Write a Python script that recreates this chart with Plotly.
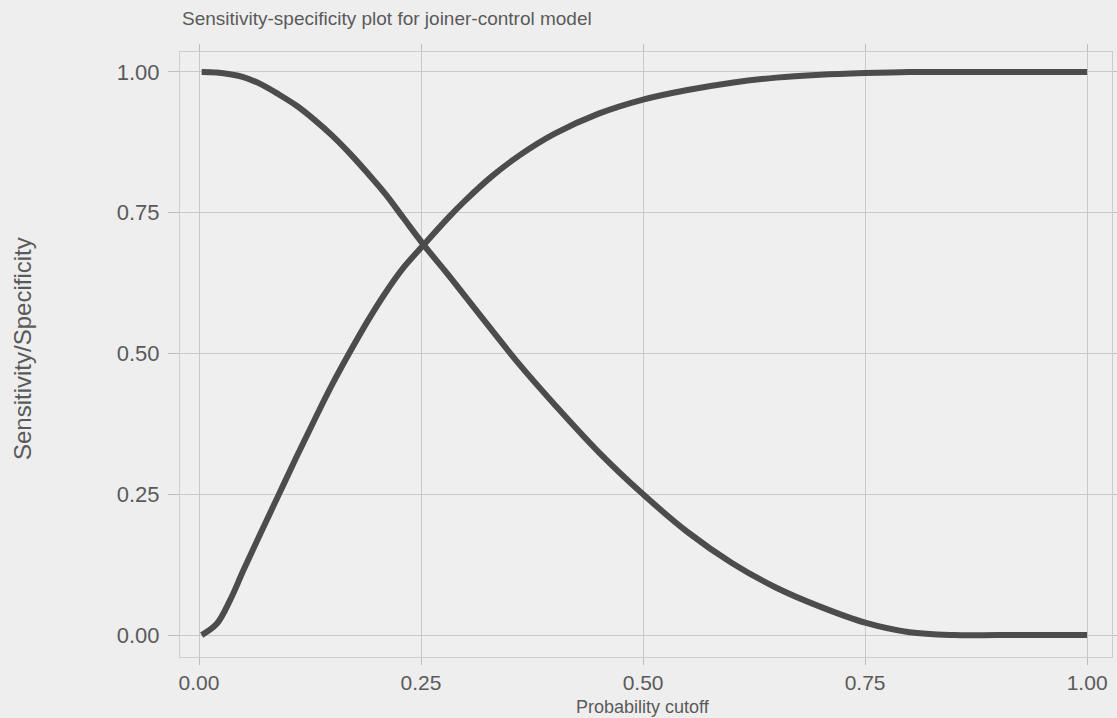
import plotly.graph_objects as go

# Probability cutoffs at which the two classification rates were evaluated
cutoff = [0.003, 0.02, 0.035, 0.05, 0.07, 0.09, 0.11, 0.13, 0.15, 0.17, 0.19,
          0.21, 0.23, 0.253, 0.28, 0.30, 0.33, 0.36, 0.40, 0.45, 0.50, 0.55,
          0.60, 0.65, 0.70, 0.75, 0.80, 0.85, 0.90, 0.95, 1.00]

sensitivity = [0.0, 0.02, 0.062, 0.115, 0.183, 0.25, 0.317, 0.382, 0.445, 0.503,
               0.558, 0.608, 0.652, 0.693, 0.74, 0.772, 0.815, 0.851, 0.89,
               0.926, 0.951, 0.968, 0.981, 0.99, 0.995, 0.998, 1.0, 1.0, 1.0,
               1.0, 1.0]

specificity = [1.0, 0.999, 0.996, 0.991, 0.978, 0.96, 0.94, 0.915, 0.887,
               0.855, 0.82, 0.783, 0.741, 0.693, 0.641, 0.601, 0.541, 0.482,
               0.41, 0.325, 0.25, 0.183, 0.128, 0.084, 0.05, 0.022, 0.005,
               0.0, 0.0, 0.0, 0.0]

x_ticks = [0.0, 0.25, 0.5, 0.75, 1.0]
y_ticks = [0.0, 0.25, 0.5, 0.75, 1.0]
tick_text = ["0.00", "0.25", "0.50", "0.75", "1.00"]

line_color = "#4c4c4c"
font_color = "#5a5a5a"
grid_color = "#c9c9c9"
font_family = "Liberation Sans, Arial, sans-serif"

fig = go.Figure()
for name, vals in (("Sensitivity", sensitivity), ("Specificity", specificity)):
    fig.add_trace(go.Scatter(
        x=cutoff, y=vals, name=name, mode="lines",
        line=dict(color=line_color, width=6, shape="spline", smoothing=1.0),
        showlegend=False,
    ))

axis_common = dict(
    showgrid=True, gridcolor=grid_color, gridwidth=1, automargin=False,
    zeroline=False, showline=True, linecolor="#cdcdcd", linewidth=1,
    mirror="all", ticks="outside", tickcolor="#bdbdbd",
)

fig.update_layout(
    width=1117, height=718,
    margin=dict(l=180, r=5, t=52, b=61),
    paper_bgcolor="#eeeeee", plot_bgcolor="#efefef",
    font=dict(family=font_family, color=font_color),
    title=dict(text="Sensitivity-specificity plot for joiner-control model",
               x=182 / 1117, xanchor="left", xref="container",
               y=1 - 18 / 718, yanchor="middle", yref="container",
               font=dict(size=19, color=font_color)),
    xaxis=dict(axis_common, range=[-0.0214, 1.028], tickvals=x_ticks,
               ticktext=tick_text, ticklen=7,
               tickfont=dict(family=font_family, size=21, color=font_color)),
    yaxis=dict(axis_common, range=[-0.039, 1.0355], tickvals=y_ticks,
               ticktext=tick_text, ticklen=11, ticklabelstandoff=4,
               tickfont=dict(family=font_family, size=22, color=font_color)),
    annotations=[
        dict(text="Probability cutoff", xref="paper", yref="paper",
             x=(643 - 180) / 932, y=-(707 - 657) / 605, xanchor="center",
             yanchor="middle", showarrow=False,
             font=dict(size=18, color=font_color, family=font_family)),
        dict(text="Sensitivity/Specificity", xref="paper", yref="paper",
             x=-(180 - 22) / 932, y=(657 - 349) / 605, xanchor="center",
             yanchor="middle", textangle=-90, showarrow=False,
             font=dict(size=24, color=font_color, family=font_family)),
    ],
)

fig.write_html("out.html")
